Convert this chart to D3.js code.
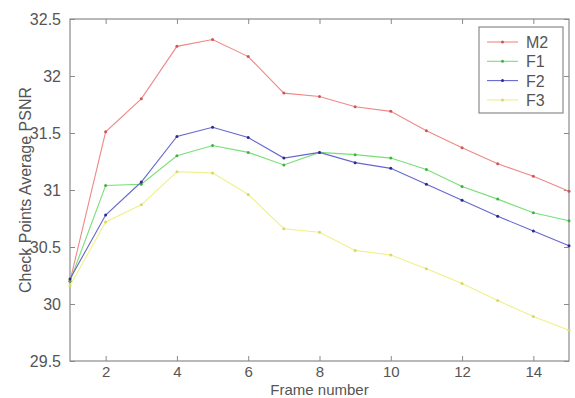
<!DOCTYPE html>
<html>
<head>
<meta charset="utf-8">
<script src="https://cdn.jsdelivr.net/npm/d3@7"></script>
<style>
  html, body { margin: 0; padding: 0; background: #fff; }
  svg { display: block; font-family: "Liberation Sans", Arial, sans-serif; }
</style>
</head>
<body>
<svg id="chart" width="575" height="398"></svg>
<script>
// Frame indices on the x axis
const frames = [1, 2, 3, 4, 5, 6, 7, 8, 9, 10, 11, 12, 13, 14, 15];

// Average PSNR at the check points for each method
const m2 = [30.2, 31.51, 31.80, 32.26, 32.32, 32.17, 31.85, 31.82, 31.73, 31.69, 31.52, 31.37, 31.23, 31.12, 30.99];
const f1 = [30.2, 31.04, 31.05, 31.30, 31.39, 31.33, 31.22, 31.33, 31.31, 31.28, 31.18, 31.03, 30.92, 30.80, 30.73];
const f2 = [30.22, 30.78, 31.07, 31.47, 31.55, 31.46, 31.28, 31.33, 31.24, 31.19, 31.05, 30.91, 30.77, 30.64, 30.51];
const f3 = [30.16, 30.72, 30.87, 31.16, 31.15, 30.96, 30.66, 30.63, 30.47, 30.43, 30.31, 30.18, 30.03, 29.89, 29.77];

const seriesNames = ["M2", "F1", "F2", "F3"];
const seriesValues = [m2, f1, f2, f3];

const xTicks = [2, 4, 6, 8, 10, 12, 14];
const yTicks = [29.5, 30, 30.5, 31, 31.5, 32, 32.5];

const lineColors = ["#f08888", "#77e077", "#6666d0", "#f0f08a"];
const dotColors = ["#d05555", "#44b044", "#2a2a90", "#d8d866"];

const svg = d3.select("#chart");
const plot = { left: 70, right: 569, top: 19, bottom: 361 };

const x = d3.scaleLinear().domain([1, 15]).range([plot.left, plot.right]);
const y = d3.scaleLinear().domain([29.5, 32.5]).range([plot.bottom, plot.top]);

const axisColor = "#8a8a8a";
const textColor = "#555";

// Plot area box
svg.append("rect")
  .attr("x", plot.left).attr("y", plot.top)
  .attr("width", plot.right - plot.left).attr("height", plot.bottom - plot.top)
  .attr("fill", "#fff").attr("stroke", axisColor).attr("stroke-width", 1.2);

// Axes with inward ticks on all four sides
function styleAxis(size) {
  return g => {
    g.select(".domain").remove();
    g.selectAll(".tick line").attr("stroke", axisColor).attr("stroke-width", 1);
    g.selectAll(".tick text").attr("fill", textColor).style("font-size", size)
      .style("font-family", "'Liberation Sans', Arial, sans-serif");
  };
}

svg.append("g").attr("transform", `translate(0,${plot.bottom})`)
  .call(d3.axisBottom(x).tickValues(xTicks).tickSizeInner(-5).tickSizeOuter(0).tickPadding(5.5))
  .call(styleAxis("15px"));
svg.append("g").attr("transform", `translate(0,${plot.top})`)
  .call(d3.axisTop(x).tickValues(xTicks).tickSizeInner(-5).tickSizeOuter(0).tickFormat(""))
  .call(styleAxis("15px"));
svg.append("g").attr("transform", `translate(${plot.left},0)`)
  .call(d3.axisLeft(y).tickValues(yTicks).tickSizeInner(-5).tickSizeOuter(0).tickPadding(9).tickFormat(d3.format("")))
  .call(styleAxis("16px"));
svg.append("g").attr("transform", `translate(${plot.right},0)`)
  .call(d3.axisRight(y).tickValues(yTicks).tickSizeInner(-5).tickSizeOuter(0).tickFormat(""))
  .call(styleAxis("16px"));

// Series lines and point markers
const line = d3.line().x((d, i) => x(frames[i])).y(d => y(d));
seriesValues.forEach((vals, s) => {
  svg.append("path")
    .datum(vals)
    .attr("d", line)
    .attr("fill", "none")
    .attr("stroke", lineColors[s])
    .attr("stroke-width", 1.1);
  svg.append("g").selectAll("circle")
    .data(vals)
    .join("circle")
    .attr("cx", (d, i) => x(frames[i]))
    .attr("cy", d => y(d))
    .attr("r", 1.5)
    .attr("fill", dotColors[s]);
});

// Axis titles
svg.append("text")
  .attr("x", (plot.left + plot.right) / 2).attr("y", 394.5)
  .attr("text-anchor", "middle").attr("fill", textColor)
  .style("font-size", "15px")
  .text("Frame number");

svg.append("text")
  .attr("transform", `translate(31,${(plot.top + plot.bottom) / 2}) rotate(-90)`)
  .attr("text-anchor", "middle").attr("fill", textColor)
  .style("font-size", "16px")
  .text("Check Points Average PSNR");

// Legend
const legend = svg.append("g");
legend.append("rect")
  .attr("x", 479).attr("y", 27).attr("width", 84).attr("height", 86)
  .attr("fill", "#fff").attr("stroke", axisColor).attr("stroke-width", 1.2);
seriesNames.forEach((name, s) => {
  const ly = 42 + s * 19.3;
  legend.append("line")
    .attr("x1", 487).attr("x2", 518).attr("y1", ly).attr("y2", ly)
    .attr("stroke", lineColors[s]).attr("stroke-width", 1.1);
  legend.append("circle")
    .attr("cx", 502.5).attr("cy", ly).attr("r", 1.5).attr("fill", dotColors[s]);
  legend.append("text")
    .attr("x", 526).attr("y", ly + 6)
    .attr("fill", textColor).style("font-size", "16px")
    .text(name);
});
</script>
</body>
</html>
